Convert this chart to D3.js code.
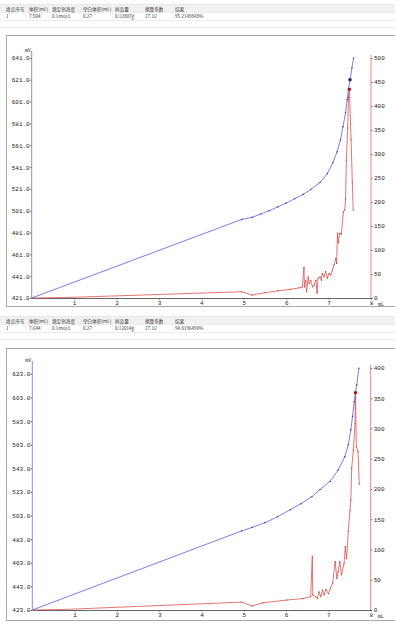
<!DOCTYPE html>
<html>
<head>
<meta charset="utf-8">
<script src="https://cdn.jsdelivr.net/npm/d3@7"></script>
<style>
  body { margin: 0; background: #fff; }
  svg { display: block; }
  .tbl text { font-family: "Noto Sans CJK SC", sans-serif; font-size: 4.6px; fill: #333; }
  .ax text { font-family: "Liberation Mono", "DejaVu Sans Mono", monospace; font-size: 6px; fill: #222; }
</style>
</head>
<body>
<svg id="chart" width="395" height="634"></svg>
<script>

  // table columns
  var headers = ["终点序号", "体积(mL)", "滴定剂浓度", "空白体积(mL)", "样品量", "换算系数", "结果"];
  var row1 = ["1", "7.504", "0.1mol/L", "0.27", "0.12807g", "17.12", "95.2149848%"];
  var row2 = ["1", "7.644", "0.1mol/L", "0.27", "0.12014g", "17.12", "94.0196490%"];

  // first titration: potential (mV) and derivative
  var blueVol1 = [0, 4.95, 5.2, 5.4, 5.6, 5.8, 6.0, 6.2, 6.4, 6.58, 6.8, 6.97, 7.1, 7.2, 7.28, 7.34, 7.40, 7.44, 7.47, 7.51, 7.55, 7.59];
  var blueMv1 = [421, 493, 495, 498, 501, 504.5, 508, 512, 516, 520.5, 527, 535, 545, 555, 566, 578, 591, 603, 613, 621, 632, 641];
  var redVol1 = [0, 0.8, 4.95, 5.2, 5.5, 5.8, 6.1, 6.3, 6.38, 6.42, 6.43, 6.46, 6.48, 6.52, 6.54, 6.58, 6.62, 6.66, 6.70, 6.73, 6.75, 6.80, 6.83, 6.85, 6.89, 6.93, 6.97, 7.01, 7.05, 7.09, 7.13, 7.17, 7.19, 7.21, 7.23, 7.26, 7.30, 7.35, 7.38, 7.40, 7.42, 7.45, 7.47, 7.49, 7.53, 7.56, 7.58];
  var redVal1 = [0, 1, 13, 6, 11, 15, 18, 21, 23, 64, 23, 37, 13, 44, 30, 37, 23, 27, 37, 10, 41, 44, 37, 51, 44, 55, 41, 51, 48, 58, 69, 83, 72, 135, 115, 135, 133, 180, 183, 205, 287, 354, 418, 435, 330, 240, 183];
  var end1 = {vol: 7.504, mv: 621, d: 435};

  // second titration
  var blueVol2 = [0, 4.95, 5.2, 5.5, 5.8, 6.1, 6.35, 6.61, 6.8, 7.04, 7.23, 7.39, 7.47, 7.53, 7.57, 7.61, 7.64, 7.67, 7.72];
  var blueMv2 = [423, 490, 493, 497, 502, 508, 513, 519, 525, 532, 541.6, 553, 563, 575.5, 587, 599.5, 607.5, 613.7, 627.8];
  var redVol2 = [0, 0.8, 4.95, 5.19, 5.46, 6.02, 6.41, 6.58, 6.62, 6.63, 6.70, 6.74, 6.78, 6.82, 6.86, 6.90, 6.94, 7.00, 7.05, 7.10, 7.16, 7.20, 7.23, 7.27, 7.31, 7.37, 7.40, 7.43, 7.47, 7.51, 7.53, 7.55, 7.59, 7.63, 7.64, 7.66, 7.70, 7.73];
  var redVal2 = [0, 1, 13, 6.6, 12, 16.5, 19, 22, 89, 25, 22, 19, 30, 22, 33, 25, 34, 27, 36, 44, 80, 52, 63, 80, 58, 77, 105, 85, 130, 165, 182, 234, 264, 308, 359, 270, 262, 208];
  var end2 = {vol: 7.644, mv: 607.5, d: 359};

  var mvTicks1 = d3.range(421, 642, 20);
  var mvTicks2 = d3.range(423, 624, 20);
  var volTicks = [1, 2, 3, 4, 5, 6, 7, 8];

  var svg = d3.select("#chart");

  function drawTable(y, row) {
    var colX = [6, 29, 52, 83, 115, 145, 175];
    var g = svg.append("g").attr("class", "tbl");
    g.append("rect").attr("x", 0).attr("y", y - 5).attr("width", 395).attr("height", 8).attr("fill", "#f1f1f1");
    [y - 5, y + 3, y + 11, y + 18].forEach(function(ly) {
      g.append("line").attr("x1", 0).attr("x2", 395).attr("y1", ly + 0.5).attr("y2", ly + 0.5)
        .attr("stroke", "#e4e4e4").attr("stroke-width", 0.7);
    });
    colX.slice(1).forEach(function(cx) {
      g.append("line").attr("x1", cx - 2.5).attr("x2", cx - 2.5).attr("y1", y + 3).attr("y2", y + 11)
        .attr("stroke", "#eee").attr("stroke-width", 0.6);
    });
    g.selectAll(".h").data(headers).enter().append("text")
      .attr("x", function(d, i) { return colX[i]; }).attr("y", y + 1.5).text(function(d) { return d; });
    g.selectAll(".v").data(row).enter().append("text")
      .attr("x", function(d, i) { return colX[i]; }).attr("y", y + 9).text(function(d) { return d; });
  }

  function drawChart(o) {
    var g = svg.append("g").attr("class", "ax");

    // panel frame
    g.append("rect").attr("x", o.frame[0] + 0.5).attr("y", o.frame[1] + 0.5)
      .attr("width", 420).attr("height", o.frame[2] - o.frame[1])
      .attr("fill", "none").attr("stroke", "#a8a8a8").attr("stroke-width", 1);

    var x = d3.scaleLinear().domain([0, 8]).range([o.left, o.right]);
    var yl = d3.scaleLinear().domain(o.mvDomain).range([o.bottom, o.top]);
    var yr = d3.scaleLinear().domain(o.dDomain).range([o.bottom, o.top]);

    // left axis (mV)
    var ga = g.append("g").attr("transform", "translate(" + o.left + ",0)")
      .call(d3.axisLeft(yl).tickValues(o.mvTicks).tickFormat(d3.format(".1f")).tickSize(1.5).tickSizeOuter(0));
    ga.select(".domain").remove();
    ga.selectAll("line").attr("stroke", "#555");
    ga.selectAll("text").attr("x", -2);
    g.append("line").attr("x1", o.left).attr("x2", o.left).attr("y1", o.top - 7).attr("y2", o.bottom)
      .attr("stroke", "#8c8ce6").attr("stroke-width", 1);
    g.append("text").attr("x", o.left - 1).attr("y", o.top - 6).attr("text-anchor", "end")
      .style("font-size", "5px").text("mV");

    // right axis (derivative)
    var gr = g.append("g").attr("transform", "translate(" + o.right + ",0)")
      .call(d3.axisRight(yr).tickValues(o.dTicks).tickSize(1.5).tickSizeOuter(0));
    gr.select(".domain").remove();
    gr.selectAll("line").attr("stroke", "#555");
    gr.selectAll("text").attr("x", 3);
    g.append("line").attr("x1", o.right).attr("x2", o.right).attr("y1", o.top - 3).attr("y2", o.bottom)
      .attr("stroke", "#e08a8a").attr("stroke-width", 1);

    // bottom axis (volume)
    var gb = g.append("g").attr("transform", "translate(0," + o.bottom + ")")
      .call(d3.axisBottom(x).tickValues(volTicks).tickFormat(d3.format("d")).tickSize(1.5).tickSizeOuter(0));
    gb.select(".domain").attr("stroke", "#666");
    gb.selectAll("line").attr("stroke", "#555");
    gb.selectAll("text").attr("y", 3);
    g.append("text").attr("x", o.right + 7).attr("y", o.bottom + 7.5).style("font-size", "5px").text("mL");

    var blue = o.blueVol.map(function(v, i) { return [v, o.blueMv[i]]; });
    var red = o.redVol.map(function(v, i) { return [v, o.redVal[i]]; });

    var lineB = d3.line().x(function(d) { return x(d[0]); }).y(function(d) { return yl(d[1]); });
    var lineR = d3.line().x(function(d) { return x(d[0]); }).y(function(d) { return yr(d[1]); });

    g.append("path").datum(red).attr("d", lineR).attr("fill", "none")
      .attr("stroke", "#d9534f").attr("stroke-width", 0.8);
    g.append("path").datum(blue).attr("d", lineB).attr("fill", "none")
      .attr("stroke", "#5c5ce0").attr("stroke-width", 0.8);

    g.selectAll(".mb").data(blue.slice(1)).enter().append("rect")
      .attr("x", function(d) { return x(d[0]) - 0.6; }).attr("y", function(d) { return yl(d[1]) - 0.6; })
      .attr("width", 1.2).attr("height", 1.2).attr("fill", "#2a2a9a");
    g.selectAll(".mr").data(red.slice(2)).enter().append("rect")
      .attr("x", function(d) { return x(d[0]) - 0.5; }).attr("y", function(d) { return yr(d[1]) - 0.5; })
      .attr("width", 1).attr("height", 1).attr("fill", "#b03030");

    // end point markers
    if (o.markBlue) {
      g.append("circle").attr("cx", x(o.end.vol)).attr("cy", yl(o.end.mv)).attr("r", 1.8).attr("fill", "#2c1f7a");
    }
    g.append("circle").attr("cx", x(o.endRedVol)).attr("cy", yr(o.end.d)).attr("r", 1.8).attr("fill", "#b01c1c");
  }

  drawTable(9, row1);
  drawChart({
    frame: [6, 35, 306], left: 31.7, right: 371, top: 58, bottom: 298,
    mvDomain: [421, 641], mvTicks: mvTicks1, dDomain: [0, 500], dTicks: d3.range(0, 501, 50),
    blueVol: blueVol1, blueMv: blueMv1, redVol: redVol1, redVal: redVal1,
    end: end1, endRedVol: 7.49, markBlue: true
  });

  drawTable(321, row2);
  drawChart({
    frame: [6, 348, 620], left: 32.3, right: 370.7, top: 368, bottom: 610,
    mvDomain: [423, 628], mvTicks: mvTicks2, dDomain: [0, 400], dTicks: d3.range(0, 401, 50),
    blueVol: blueVol2, blueMv: blueMv2, redVol: redVol2, redVal: redVal2,
    end: end2, endRedVol: 7.64, markBlue: false
  });

</script>
</body>
</html>
